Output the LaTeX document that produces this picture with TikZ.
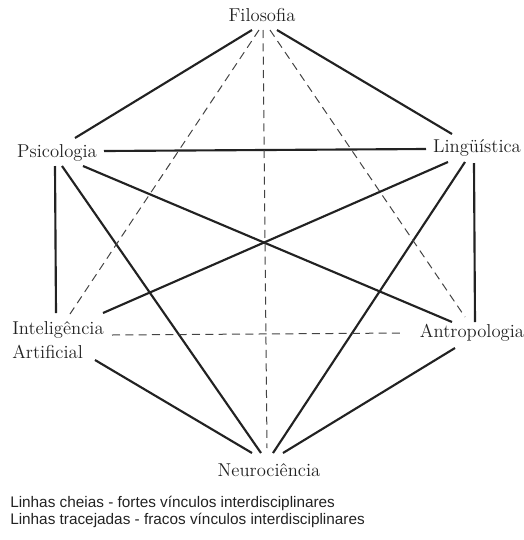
\documentclass[tikz,border=0pt]{standalone}
\usepackage{fontspec}
\newfontfamily\legendfont{Liberation Sans}
\definecolor{ink}{HTML}{222222}
\definecolor{txt}{HTML}{222222}
\begin{document}
\begin{tikzpicture}[x=0.75pt,y=-0.75pt,
  lbl/.style={font=\fontsize{14}{18}\selectfont, text=txt, inner sep=0pt},
  strong/.style={draw=ink, line width=1.6pt},
  weak/.style={draw=ink!85, line width=0.75pt, dash pattern=on 6pt off 4pt}]
\useasboundingbox (0,0) rectangle (524,540);
% labels
\node[lbl] (filo) at (262,15) {Filosofia};
\node[lbl] (psico) at (57,153) {Psicologia};
\node[lbl] (ling) at (477,148) {Lingüística};
\node[lbl, align=left, anchor=west] (ia) at (12,340) {Inteligência\\Artificial};
\node[lbl] (antro) at (472,333) {Antropologia};
\node[lbl] (neuro) at (269,470) {Neurociência};
% endpoint coordinates
\coordinate (fP) at (252,30);   \coordinate (pF) at (75,138);
\coordinate (fL) at (277,30);   \coordinate (lF) at (452,134);
\coordinate (pL) at (104,151);  \coordinate (lP) at (426,149);
\coordinate (pI) at (55,166);   \coordinate (iP) at (56,313);
\coordinate (pN) at (62,166);   \coordinate (nP) at (261,453);
\coordinate (pA) at (83,166);   \coordinate (aP) at (452,322);
\coordinate (lI) at (448,162);  \coordinate (iL) at (103,313);
\coordinate (lN) at (465,162);  \coordinate (nL) at (273,453);
\coordinate (lA) at (474,163);  \coordinate (aL) at (475,322);
\coordinate (iN) at (95,360);   \coordinate (nI) at (252,453);
\coordinate (aN) at (455,348);  \coordinate (nA) at (283,453);
\coordinate (fI) at (259,30);   \coordinate (iF) at (70,314);
\coordinate (fN) at (263,30);   \coordinate (nF) at (267,448);
\coordinate (fA) at (270,30);   \coordinate (aF) at (465,317);
\coordinate (iA) at (112,335);  \coordinate (aI) at (405,333);
% strong links
\draw[strong] (fP) -- (pF);
\draw[strong] (fL) -- (lF);
\draw[strong] (pL) -- (lP);
\draw[strong] (pI) -- (iP);
\draw[strong] (pN) -- (nP);
\draw[strong] (pA) -- (aP);
\draw[strong] (lI) -- (iL);
\draw[strong] (lN) -- (nL);
\draw[strong] (lA) -- (aL);
\draw[strong] (iN) -- (nI);
\draw[strong] (aN) -- (nA);
% weak links
\draw[weak] (fI) -- (iF);
\draw[weak] (fN) -- (nF);
\draw[weak] (fA) -- (aF);
\draw[weak] (iA) -- (aI);
% legend
\node[anchor=west, align=left, inner sep=0pt, text=ink,
      font=\legendfont\fontsize{11.5}{12.75}\selectfont] (legend) at (10,512)
  {Linhas cheias - fortes vínculos interdisciplinares\\Linhas tracejadas - fracos vínculos interdisciplinares};
\end{tikzpicture}
\end{document}
